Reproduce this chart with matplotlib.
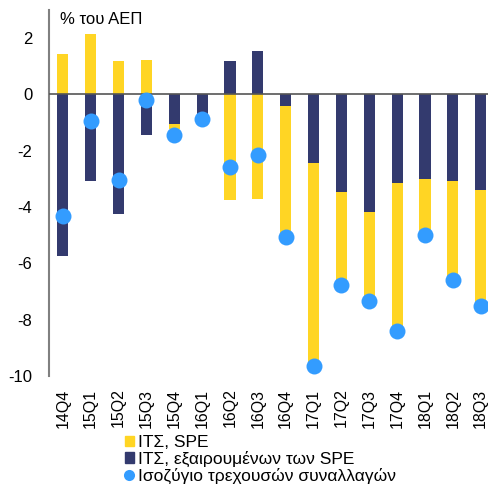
import matplotlib
matplotlib.use('Agg')
from matplotlib import pyplot as plt
from matplotlib.lines import Line2D
from matplotlib.patches import Patch
import numpy as np

plt.rcParams['font.family'] = ['Liberation Sans', 'DejaVu Sans']
plt.rcParams['axes.unicode_minus'] = False

# --- Datos ---------------------------------------------------------------------------------------
quarters = ['14Q4', '15Q1', '15Q2', '15Q3', '15Q4', '16Q1', '16Q2', '16Q3',
            '16Q4', '17Q1', '17Q2', '17Q3', '17Q4', '18Q1', '18Q2', '18Q3']
fdi_spe = [1.44, 2.13, 1.2, 1.23, -0.2, -0.05, -3.76, -3.72,
           -4.5, -7.1, -3.2, -3.0, -5.1, -1.9, -3.35, -4.0]
fdi_ex_spe = [-5.74, -3.09, -4.26, -1.45, -1.04, -0.74, 1.17, 1.54,
              -0.43, -2.42, -3.46, -4.18, -3.14, -2.99, -3.09, -3.40]
current_account = [-4.33, -0.96, -3.05, -0.21, -1.45, -0.89, -2.58, -2.17,
                   -5.06, -9.65, -6.78, -7.33, -8.4, -5.0, -6.6, -7.52]

c_yellow = '#FFD524'
c_navy = '#333A6E'
c_blue = '#339CFF'

# --- Figura --------------------------------------------------------------------------------------
fig = plt.figure(figsize=(4.89, 4.91), dpi=100)
ax = fig.add_axes([0.1, 0.234, 0.9, 0.746])

x = np.arange(len(quarters))
dark = np.array(fdi_ex_spe)
yel = np.array(fdi_spe)
y_bottom = np.where(yel < 0, np.minimum(dark, 0), np.maximum(dark, 0))  # apilado divergente

ax.bar(x, dark, width=0.4, color=c_navy, zorder=2)
ax.bar(x, yel, width=0.4, bottom=y_bottom, color=c_yellow, zorder=2)
ax.axhline(0, color='#555555', lw=1.2, zorder=3)
ax.plot(x, current_account, 'o', color=c_blue, ms=11.5, mec='none', zorder=4)

ax.set_xlim(-0.5, 15.3)
ax.set_ylim(-10, 3)
ax.set_yticks(range(-10, 3, 2))
ax.set_xticks(x)
ax.set_xticklabels(quarters, rotation=90, fontsize=11.5)
ax.tick_params(axis='y', labelsize=12, length=0, pad=12)
ax.tick_params(axis='x', length=0, pad=9)
for s in ['top', 'right', 'bottom']:
    ax.spines[s].set_visible(False)
ax.spines['left'].set_color('#808080')
ax.spines['left'].set_linewidth(1.5)

ax.text(0.025, 0.995, '% του ΑΕΠ', transform=ax.transAxes, fontsize=12, va='top', ha='left')

handles = [Patch(color=c_yellow, label='ΙΤΣ, SPE'),
           Patch(color=c_navy, label='ΙΤΣ, εξαιρουμένων των SPE'),
           Line2D([], [], marker='o', ls='none', color=c_blue, mec='none', ms=8,
                  label='Ισοζύγιο τρεχουσών συναλλαγών')]
fig.legend(handles=handles, loc='lower left', bbox_to_anchor=(0.23, -0.01), frameon=False,
           fontsize=12.5, handlelength=0.55, handleheight=0.55, handletextpad=0.2,
           labelspacing=0.05, borderpad=0.2)

fig.savefig('out.png', dpi=100)
